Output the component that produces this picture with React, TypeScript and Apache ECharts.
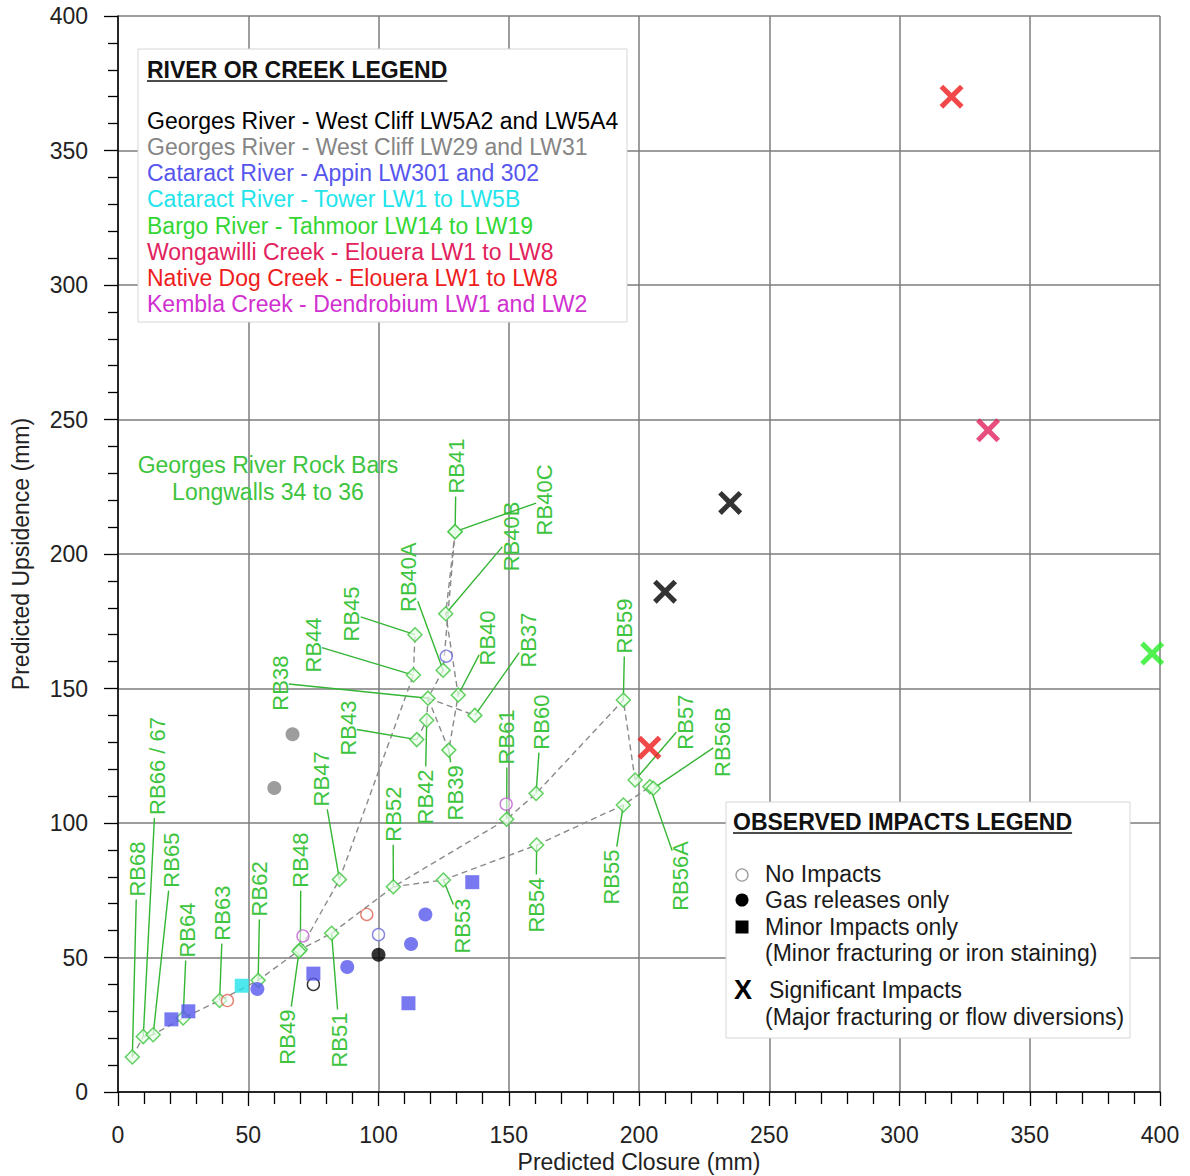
import React, { useEffect, useRef } from "react";
import * as echarts from "echarts";

// ---------- Observed impacts, grouped by river / creek ----------
const georgesLW5A_significant = [[235, 219], [210, 186]];
const georgesLW5A_gas = [[100, 51]];
const georgesLW5A_none = [[75, 40]];
const georgesLW29_gas = [[67, 133], [60, 113]];
const appin_gas = [[118, 66], [112.5, 55], [88, 46.5], [53.5, 38.3]];
const appin_minor = [[136, 78], [111.5, 33], [75, 44], [27, 30], [20.5, 27]];
const appin_none = [[100, 58.5], [126, 162]];
const tower_minor = [[47.5, 39.5]];
const bargo_significant = [[397, 163]];
const wongawilli_significant = [[334, 246]];
const nativeDog_significant = [[320, 370], [204, 128]];
const nativeDog_none = [[42, 34], [95.5, 66]];
const kembla_none = [[71, 58], [149, 107]];

// ---------- Georges River rock bars (Longwalls 34 to 36) ----------
const rockBarNames = ["RB68", "RB66 / 67", "RB65", "RB64", "RB63", "RB62", "RB48", "RB49", "RB51", "RB47",
  "RB52", "RB53", "RB54", "RB61", "RB60", "RB55", "RB59", "RB57", "RB56A", "RB56B",
  "RB37", "RB40", "RB40A", "RB40B", "RB40C", "RB41", "RB45", "RB44", "RB38", "RB43", "RB42", "RB39"];
const rockBarClosure = [5.5, 9.7, 13.5, 25, 39, 53.8, 70, 69.5, 82, 85,
  105.7, 124.9, 160.7, 149.2, 160.5, 194, 194, 198.5, 204.2, 205.5,
  137, 130.6, 124.8, 125.8, 129.4, 129.4, 114, 113.4, 119, 114.7, 118.5, 127];
const rockBarUpsidence = [13, 20.6, 21.3, 27.5, 34, 41.5, 53, 52.3, 59, 79,
  76.3, 78.8, 91.8, 101.4, 111, 106.7, 145.7, 116, 113.5, 112.9,
  140, 147.6, 156.8, 177.8, 208.3, 208.3, 170, 155, 146.4, 131, 138.2, 127.1];
// label anchor (centre of the rotated label) in data units
const rockBarLabelClosure = [7.3, 15, 20.7, 26.5, 40.3, 54.5, 70.2, 64.9, 85.2, 78.3,
  105.6, 132.1, 160.5, 149.3, 162.4, 189.6, 194.6, 217.7, 216.1, 231.9,
  157.4, 142, 111.7, 150.9, 163.9, 129.8, 89.8, 74.9, 62.2, 88.3, 117.9, 129.4];
const rockBarLabelUpsidence = [82.9, 121.2, 86.2, 60.2, 66.5, 75.5, 86.2, 20.4, 19.3, 116.4,
  103.3, 61.7, 69.5, 132, 137.5, 79.9, 173.2, 137.5, 80.3, 130.1,
  168, 168.8, 191.4, 206.5, 220.1, 232.7, 177.7, 166.2, 152, 135.3, 109.7, 111.2];
// dashed connecting lines (by rock bar name)
const rockBarLines = [
  ["RB68", "RB66 / 67", "RB65", "RB64", "RB63", "RB62", "RB48", "RB51", "RB52", "RB61", "RB60", "RB59", "RB57"],
  ["RB52", "RB53", "RB54", "RB55", "RB56A"],
  ["RB48", "RB47", "RB44", "RB45"],
  ["RB43", "RB42", "RB38", "RB40A", "RB41"],
  ["RB38", "RB39", "RB40", "RB40B", "RB41"],
  ["RB38", "RB37"],
];

// ---------- Legends ----------
const riverLegendTitle = "RIVER OR CREEK LEGEND";
const riverLegendItems = [
  "Georges River - West Cliff LW5A2 and LW5A4",
  "Georges River - West Cliff LW29 and LW31",
  "Cataract River - Appin LW301 and 302",
  "Cataract River - Tower LW1 to LW5B",
  "Bargo River - Tahmoor LW14 to LW19",
  "Wongawilli Creek - Elouera LW1 to LW8",
  "Native Dog Creek - Elouera LW1 to LW8",
  "Kembla Creek - Dendrobium LW1 and LW2",
];
const impactsLegendTitle = "OBSERVED IMPACTS LEGEND";
const impactsLegendItems = [
  "No Impacts",
  "Gas releases only",
  "Minor Impacts only",
  "(Minor fracturing or iron staining)",
  "Significant Impacts",
  "(Major fracturing or flow diversions)",
];
const rockBarNote = ["Georges River Rock Bars", "Longwalls 34 to 36"];

const C_BLACK = "#000000";
const C_GRAY = "#858585";
const C_BLUE = "#5656ee";
const C_CYAN = "#22e4ea";
const C_GREEN = "#33d633";
const C_CRIMSON = "#e2225c";
const C_RED = "#ee1c1c";
const C_MAGENTA = "#d030d0";
const riverColors = [C_BLACK, C_GRAY, C_BLUE, C_CYAN, C_GREEN, C_CRIMSON, C_RED, C_MAGENTA];
const LABEL_GREEN = "#3ec43e";
const LEADER_GREEN = "#34b534";

const FONT = "'Liberation Sans', Arial, sans-serif";
const FS = 23;
const LABEL_FS = 22;
const X_SYMBOL = "path://M0,1.5L1.5,0L5,3.5L8.5,0L10,1.5L6.5,5L10,8.5L8.5,10L5,6.5L1.5,10L0,8.5L3.5,5Z";

let ctx2d: CanvasRenderingContext2D | null = null;
function textWidth(t: string, font: string) {
  if (!ctx2d) ctx2d = document.createElement("canvas").getContext("2d");
  ctx2d!.font = font;
  return ctx2d!.measureText(t).width;
}

function scatter(data: number[][], kind: "none" | "gas" | "minor" | "sig", color: string) {
  const base: any = { type: "scatter", data, silent: true, z: 6 };
  if (kind === "none") {
    return { ...base, symbol: "circle", symbolSize: 12, itemStyle: { color: "rgba(255,255,255,0.7)", borderColor: color, borderWidth: 1.4 } };
  }
  if (kind === "gas") return { ...base, symbol: "circle", symbolSize: 14, itemStyle: { color } };
  if (kind === "minor") return { ...base, symbol: "rect", symbolSize: 14, itemStyle: { color } };
  return { ...base, symbol: X_SYMBOL, symbolSize: 24, itemStyle: { color }, z: 7 };
}

export default function App() {
  const ref = useRef<HTMLDivElement>(null);
  useEffect(() => {
    if (!ref.current) return;
    const chart = echarts.init(ref.current, undefined, { renderer: "svg" });

    const idx: Record<string, number> = {};
    rockBarNames.forEach((n, i) => (idx[n] = i));

    const lineSeries = rockBarLines.map((names) => ({
      type: "line",
      data: names.map((n) => [rockBarClosure[idx[n]], rockBarUpsidence[idx[n]]]),
      symbol: "none",
      silent: true,
      z: 3,
      lineStyle: { color: "#8a8a8a", width: 1.4, type: [6, 4] },
    }));

    const labelSeries = {
      type: "custom",
      silent: true,
      z: 4,
      data: rockBarNames.map((n, i) => [rockBarClosure[i], rockBarUpsidence[i], rockBarLabelClosure[i], rockBarLabelUpsidence[i], i]),
      encode: { x: 0, y: 1 },
      renderItem: (params: any, api: any) => {
        const i = api.value(4);
        const p = api.coord([api.value(0), api.value(1)]);
        const c = api.coord([api.value(2), api.value(3)]);
        const name = rockBarNames[i];
        const w = textWidth(name, `${LABEL_FS}px ${FONT}`);
        const hw = LABEL_FS * 0.4;
        const hh = w / 2 + 3;
        const dx = p[0] - c[0];
        const dy = p[1] - c[1];
        const tx = Math.abs(dx) > 1e-6 ? hw / Math.abs(dx) : Infinity;
        const ty = Math.abs(dy) > 1e-6 ? hh / Math.abs(dy) : Infinity;
        const t = Math.min(tx, ty, 1);
        const qx = c[0] + dx * t;
        const qy = c[1] + dy * t;
        return {
          type: "group",
          children: [
            { type: "line", shape: { x1: qx, y1: qy, x2: p[0], y2: p[1] }, style: { stroke: LEADER_GREEN, lineWidth: 1.4 } },
            {
              type: "text", x: c[0], y: c[1], rotation: Math.PI / 2,
              style: { text: name, fill: LABEL_GREEN, fontSize: LABEL_FS, fontFamily: FONT, align: "center", verticalAlign: "middle" },
            },
          ],
        };
      },
    };

    const diamondSeries = {
      type: "scatter",
      silent: true,
      z: 5,
      data: rockBarNames.map((n, i) => [rockBarClosure[i], rockBarUpsidence[i]]),
      symbol: "diamond",
      symbolSize: 14,
      itemStyle: { color: "rgba(235,255,235,0.9)", borderColor: "#3cc43c", borderWidth: 1.5 },
    };

    const obsSeries = [
      scatter(georgesLW5A_significant, "sig", C_BLACK),
      scatter(georgesLW5A_gas, "gas", C_BLACK),
      scatter(georgesLW5A_none, "none", C_BLACK),
      scatter(georgesLW29_gas, "gas", C_GRAY),
      scatter(appin_gas, "gas", C_BLUE),
      scatter(appin_minor, "minor", C_BLUE),
      scatter(appin_none, "none", "#6a6ad8"),
      scatter(tower_minor, "minor", C_CYAN),
      scatter(bargo_significant, "sig", "#26ee26"),
      scatter(wongawilli_significant, "sig", C_CRIMSON),
      scatter(nativeDog_significant, "sig", C_RED),
      scatter(nativeDog_none, "none", "#e06050"),
      scatter(kembla_none, "none", "#c060d0"),
    ];

    // ---------- legend graphics ----------
    const Z = 100;
    const titleFont = `bold ${FS}px ${FONT}`;
    const rTitleW = textWidth(riverLegendTitle, titleFont);
    const oTitleW = textWidth(impactsLegendTitle, titleFont);
    const txt = (text: string, x: number, y: number, fill: string, extra: any = {}) => ({
      type: "text", x, y, z: Z + 1,
      style: { text, fill, fontSize: FS, fontFamily: FONT, align: "left", verticalAlign: "middle", ...extra },
    });

    const graphics: any[] = [
      { type: "rect", z: Z, shape: { x: 138, y: 49, width: 489, height: 273 }, style: { fill: "#fff", stroke: "#d6d6d6", lineWidth: 1 } },
      txt(riverLegendTitle, 147, 70, "#111", { fontWeight: "bold" }),
      { type: "line", z: Z + 1, shape: { x1: 147, y1: 81, x2: 147 + rTitleW, y2: 81 }, style: { stroke: "#111", lineWidth: 1.6 } },
      ...riverLegendItems.map((t, k) => txt(t, 147, 121 + k * 26.15, riverColors[k])),

      { type: "rect", z: Z, shape: { x: 726, y: 802, width: 404, height: 236 }, style: { fill: "#fff", stroke: "#d6d6d6", lineWidth: 1 } },
      txt(impactsLegendTitle, 733, 822, "#111", { fontWeight: "bold" }),
      { type: "line", z: Z + 1, shape: { x1: 733, y1: 833, x2: 733 + oTitleW, y2: 833 }, style: { stroke: "#111", lineWidth: 1.6 } },
      { type: "circle", z: Z + 1, shape: { cx: 742, cy: 875, r: 6 }, style: { fill: "#fff", stroke: "#999", lineWidth: 1.3 } },
      { type: "circle", z: Z + 1, shape: { cx: 742, cy: 900, r: 6.5 }, style: { fill: "#000" } },
      { type: "rect", z: Z + 1, shape: { x: 735.5, y: 920.5, width: 13, height: 13 }, style: { fill: "#000" } },
      txt("X", 734, 990, "#000", { fontWeight: "bold", fontSize: 27 }),
      txt(impactsLegendItems[0], 765, 874, "#1a1a1a"),
      txt(impactsLegendItems[1], 765, 900, "#1a1a1a"),
      txt(impactsLegendItems[2], 765, 927, "#1a1a1a"),
      txt(impactsLegendItems[3], 765, 953, "#1a1a1a"),
      txt(impactsLegendItems[4], 769, 990, "#1a1a1a"),
      txt(impactsLegendItems[5], 765, 1017, "#1a1a1a"),

      ...rockBarNote.map((t, k) => txt(t, 268, 465 + k * 27, LABEL_GREEN, { align: "center" })),
    ];

    const axisCommon = {
      type: "value",
      min: 0,
      max: 400,
      interval: 50,
      nameLocation: "middle",
      nameTextStyle: { fontSize: FS, color: "#222", fontFamily: FONT },
      axisLine: { show: true, onZero: false, lineStyle: { color: "#000", width: 1.5 } },
      axisTick: { show: true, length: 14, lineStyle: { color: "#000", width: 1.3 } },
      splitLine: { show: true, lineStyle: { color: "#7c7c7c", width: 1.5 } },
    };

    chart.setOption({
      animation: false,
      backgroundColor: "#fff",
      textStyle: { fontFamily: FONT },
      grid: { left: 118, right: 30, top: 16, bottom: 84, containLabel: false, outerBoundsMode: "none" },
      xAxis: {
        ...axisCommon,
        name: "Predicted Closure (mm)",
        nameGap: 58,
        minorTick: { show: true, splitNumber: 5, length: 12, lineStyle: { color: "#000", width: 1.3 } },
        axisLabel: { fontSize: FS, color: "#222", margin: 31, fontFamily: FONT },
      },
      yAxis: {
        ...axisCommon,
        name: "Predicted Upsidence (mm)",
        nameGap: 86,
        minorTick: { show: true, splitNumber: 5, length: 10, lineStyle: { color: "#000", width: 1.3 } },
        axisLabel: { fontSize: FS, color: "#222", margin: 30, fontFamily: FONT },
      },
      graphic: { elements: graphics },
      series: [...lineSeries, labelSeries, diamondSeries, ...obsSeries],
    });

    return () => chart.dispose();
  }, []);

  return <div ref={ref} style={{ position: "absolute", left: 0, top: 0, width: 1190, height: 1176, background: "#fff" }} />;
}
